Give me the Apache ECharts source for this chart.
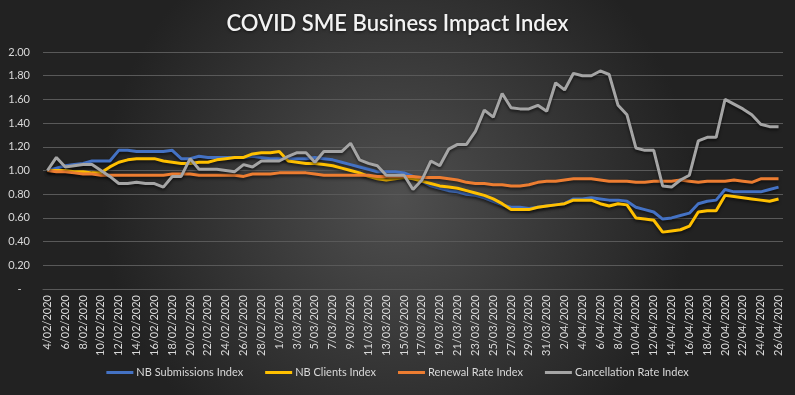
<!DOCTYPE html>
<html>
<head>
<meta charset="utf-8">
<script src="https://cdn.jsdelivr.net/npm/echarts@6/dist/echarts.min.js"></script>
<style>
html,body{margin:0;padding:0;background:#333;}
#c{width:795px;height:395px;}
</style>
</head>
<body>
<div id="c"></div>
<script>
const dates = [
"4/02/2020","5/02/2020","6/02/2020","7/02/2020","8/02/2020","9/02/2020","10/02/2020","11/02/2020","12/02/2020","13/02/2020",
"14/02/2020","15/02/2020","16/02/2020","17/02/2020","18/02/2020","19/02/2020","20/02/2020","21/02/2020","22/02/2020","23/02/2020",
"24/02/2020","25/02/2020","26/02/2020","27/02/2020","28/02/2020","29/02/2020","1/03/2020","2/03/2020","3/03/2020","4/03/2020",
"5/03/2020","6/03/2020","7/03/2020","8/03/2020","9/03/2020","10/03/2020","11/03/2020","12/03/2020","13/03/2020","14/03/2020",
"15/03/2020","16/03/2020","17/03/2020","18/03/2020","19/03/2020","20/03/2020","21/03/2020","22/03/2020","23/03/2020","24/03/2020",
"25/03/2020","26/03/2020","27/03/2020","28/03/2020","29/03/2020","30/03/2020","31/03/2020","1/04/2020","2/04/2020","3/04/2020",
"4/04/2020","5/04/2020","6/04/2020","7/04/2020","8/04/2020","9/04/2020","10/04/2020","11/04/2020","12/04/2020","13/04/2020",
"14/04/2020","15/04/2020","16/04/2020","17/04/2020","18/04/2020","19/04/2020","20/04/2020","21/04/2020","22/04/2020","23/04/2020",
"24/04/2020","25/04/2020","26/04/2020"
];
const nbSubmissions = [
1.00,1.02,1.04,1.05,1.06,1.08,1.08,1.08,1.17,1.17,
1.16,1.16,1.16,1.16,1.17,1.10,1.10,1.12,1.11,1.11,
1.11,1.11,1.11,1.12,1.11,1.10,1.10,1.10,1.10,1.10,
1.11,1.10,1.09,1.07,1.05,1.03,1.01,0.99,0.99,0.99,
0.98,0.95,0.91,0.87,0.85,0.83,0.82,0.80,0.79,0.77,
0.74,0.71,0.69,0.69,0.68,0.69,0.70,0.71,0.72,0.76,
0.76,0.77,0.76,0.75,0.75,0.74,0.69,0.67,0.65,0.59,
0.60,0.62,0.64,0.72,0.74,0.75,0.84,0.82,0.82,0.82,
0.82,0.84,0.86
];
const nbClients = [
1.00,1.00,1.00,0.99,0.99,0.98,0.98,1.03,1.07,1.09,
1.10,1.10,1.10,1.08,1.07,1.06,1.06,1.07,1.07,1.09,
1.10,1.11,1.11,1.14,1.15,1.15,1.16,1.08,1.07,1.06,
1.06,1.05,1.04,1.02,1.00,0.98,0.95,0.93,0.92,0.93,
0.94,0.93,0.91,0.89,0.87,0.86,0.85,0.83,0.81,0.79,
0.76,0.72,0.67,0.67,0.67,0.69,0.70,0.71,0.72,0.75,
0.75,0.75,0.72,0.70,0.72,0.71,0.60,0.59,0.58,0.48,
0.49,0.50,0.53,0.65,0.66,0.66,0.79,0.78,0.77,0.76,
0.75,0.74,0.76
];
const renewalRate = [
1.00,0.99,0.99,0.98,0.97,0.97,0.96,0.96,0.96,0.96,
0.96,0.96,0.96,0.96,0.97,0.97,0.97,0.96,0.96,0.96,
0.96,0.96,0.95,0.97,0.97,0.97,0.98,0.98,0.98,0.98,
0.97,0.96,0.96,0.96,0.96,0.96,0.96,0.95,0.95,0.95,
0.95,0.95,0.94,0.94,0.94,0.93,0.92,0.90,0.89,0.89,
0.88,0.88,0.87,0.87,0.88,0.90,0.91,0.91,0.92,0.93,
0.93,0.93,0.92,0.91,0.91,0.91,0.90,0.90,0.91,0.91,
0.91,0.92,0.91,0.90,0.91,0.91,0.91,0.92,0.91,0.90,
0.93,0.93,0.93
];
const cancellationRate = [
1.00,1.11,1.03,1.04,1.05,1.05,1.00,0.95,0.89,0.89,
0.90,0.89,0.89,0.86,0.95,0.95,1.10,1.01,1.01,1.01,
1.00,0.99,1.05,1.03,1.08,1.08,1.08,1.12,1.15,1.15,
1.07,1.16,1.16,1.16,1.23,1.09,1.06,1.04,0.96,0.96,
0.96,0.84,0.92,1.08,1.04,1.18,1.22,1.22,1.33,1.51,
1.45,1.65,1.53,1.52,1.52,1.55,1.50,1.74,1.68,1.82,
1.80,1.80,1.84,1.81,1.55,1.47,1.19,1.17,1.17,0.87,
0.86,0.92,0.96,1.25,1.28,1.28,1.60,1.56,1.52,1.47,
1.39,1.37,1.37
];
const seriesNames = ["NB Submissions Index","NB Clients Index","Renewal Rate Index","Cancellation Rate Index"];
const seriesColors = ["#4472C4","#FFC000","#ED7D31","#A5A5A5"];
const seriesData = [nbSubmissions, nbClients, renewalRate, cancellationRate];

const FONT = "Lato, 'Noto Sans', sans-serif";
const chart = echarts.init(document.getElementById('c'), null, {renderer:'canvas'});
chart.setOption({
  animation:false,
  backgroundColor:{type:'radial',x:0.5,y:0.5,r:0.75,colorStops:[{offset:0,color:'#4f4f4f'},{offset:1,color:'#222222'}]},
  title:{text:'COVID SME Business Impact Index',left:'center',top:8,
    textStyle:{color:'#f2f2f2',fontFamily:FONT,fontSize:22,fontWeight:600,
      textShadowColor:'rgba(0,0,0,0.6)',textShadowBlur:3,textShadowOffsetY:1}},
  legend:{bottom:12,left:'center',itemWidth:27,itemHeight:3,itemGap:22,icon:'rect',
    textStyle:{color:'#d9d9d9',fontFamily:FONT,fontSize:11,padding:[0,0,0,-2]},
    data:seriesNames},
  grid:{left:43,right:12,top:52,bottom:106,containLabel:false},
  xAxis:{type:'category',data:dates,boundaryGap:true,
    axisLine:{show:true,lineStyle:{color:'#595959',width:1}},
    axisTick:{show:false},
    axisLabel:{interval:1,rotate:90,color:'#d9d9d9',fontFamily:FONT,fontSize:11,margin:6}},
  yAxis:{type:'value',min:0,max:2,interval:0.2,
    axisLine:{show:false},axisTick:{show:false},
    splitLine:{lineStyle:{color:'#595959',width:1}},
    axisLabel:{color:'#d9d9d9',fontFamily:FONT,fontSize:11,margin:13,
      formatter:function(v){return Math.abs(v)<1e-9?'-   ':v.toFixed(2);}}},
  series:seriesData.map(function(d,k){return {
    name:seriesNames[k],type:'line',data:d,symbol:'none',smooth:false,
    itemStyle:{color:seriesColors[k]},
    lineStyle:{color:seriesColors[k],width:3,shadowColor:'rgba(0,0,0,0.55)',shadowBlur:3,shadowOffsetY:2}
  };})
});
</script>
</body>
</html>
